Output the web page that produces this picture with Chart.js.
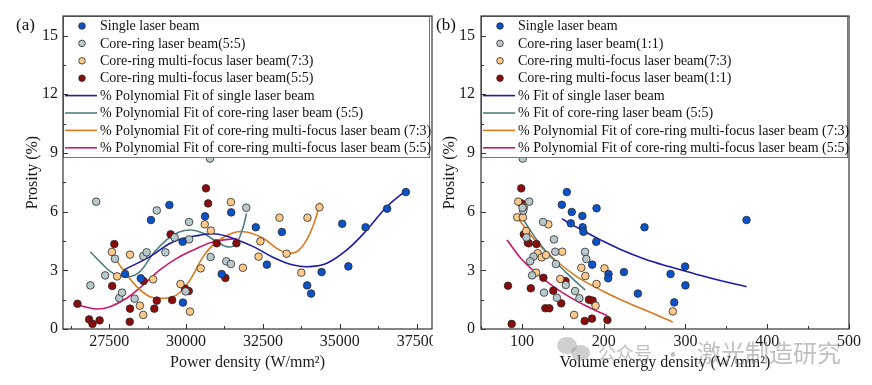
<!DOCTYPE html>
<html><head><meta charset="utf-8">
<script src="https://cdn.jsdelivr.net/npm/chart.js@4/dist/chart.umd.min.js"></script>
<style>
html,body{margin:0;padding:0;background:#fff;width:872px;height:385px;overflow:hidden;position:relative;}
#wa{position:absolute;left:0;top:0;width:433px;height:385px;overflow:hidden;}
#wb{position:absolute;left:433px;top:0;width:439px;height:385px;background:#fff;}
.plab{position:absolute;font:17px 'Liberation Serif';line-height:20px;color:#111;}
.wm{position:absolute;font-family:'Noto Sans CJK SC';color:rgba(130,130,130,0.5);white-space:nowrap;}
.bub{position:absolute;border-radius:50%;background:rgba(140,140,140,0.42);}
</style></head><body>
<div id="wa"><canvas id="ca" width="445" height="385"></canvas></div>
<div id="wb"><canvas id="cb" width="439" height="385"></canvas></div>
<div class="plab" style="left:16px;top:15px;">(a)</div>
<div class="plab" style="left:436px;top:15px;">(b)</div>
<div class="bub" style="left:557px;top:337px;width:20px;height:17px;"></div>
<div class="bub" style="left:571px;top:345px;width:19px;height:16px;"></div>
<div class="wm" style="left:598px;top:340px;font-size:18px;line-height:24px;">公众号</div>
<div class="wm" style="left:662px;top:338px;font-size:22px;line-height:28px;">·</div>
<div class="wm" style="left:697px;top:337px;font-size:24px;line-height:30px;">激光制造研究</div>
<script>
// ---------- tick labels ----------
const aXTicks = [27500, 30000, 32500, 35000, 37500];
const bXTicks = [100, 200, 300, 400, 500];
const yTicks = [0, 3, 6, 9, 12, 15];

// ---------- panel (a): power density vs porosity ----------
const aSingleX = [28020, 28860, 29460, 28530, 29890, 29900, 30620, 31160, 31470, 32270, 32630, 33120, 33940, 34070, 34410, 35080, 35280, 35840, 36540, 37150];
const aSingleY = [2.81, 5.57, 6.34, 2.59, 4.46, 1.35, 5.76, 2.81, 5.96, 5.20, 3.29, 4.96, 2.23, 1.81, 2.91, 5.38, 3.20, 5.20, 6.15, 7.00];
const aCoreX = [27080, 26890, 27370, 27690, 27830, 27920, 28330, 28610, 28720, 29050, 29330, 29630, 29990, 30100, 30100, 30800, 31310, 31460, 31960, 30780];
const aCoreY = [6.51, 2.23, 2.74, 3.59, 1.58, 1.86, 1.55, 3.73, 3.92, 6.06, 3.92, 4.68, 1.92, 5.47, 4.58, 3.68, 3.46, 3.32, 6.20, 8.71];
const aMf73X = [27590, 27760, 28180, 28500, 28610, 28930, 29820, 30610, 30810, 30480, 31460, 31850, 32420, 32360, 33040, 33270, 33750, 33950, 34340, 30130];
const aMf73Y = [3.94, 2.69, 3.80, 1.19, 0.72, 2.54, 2.30, 5.35, 5.03, 3.10, 6.49, 3.13, 4.48, 3.70, 5.69, 3.85, 2.88, 5.69, 6.22, 0.89];
const aMf55X = [26470, 26850, 26960, 27190, 27600, 27670, 28180, 28170, 28620, 28970, 29050, 29500, 29550, 29970, 30090, 30650, 30720, 31000, 31280, 31640];
const aMf55Y = [1.29, 0.49, 0.26, 0.44, 2.20, 4.34, 1.04, 0.37, 2.45, 1.04, 1.45, 4.84, 1.48, 2.06, 1.94, 7.19, 6.42, 4.38, 2.61, 4.38];
// fitted curves
const aFitSingleX = [27980, 28830, 29590, 30460, 31000, 31540, 32190, 32840, 33490, 34030, 34580, 35230, 35880, 36530, 37150];
const aFitSingleY = [3.02, 3.70, 4.46, 4.80, 4.86, 4.63, 4.21, 3.66, 3.27, 3.19, 3.36, 4.04, 5.06, 6.25, 7.07];
const aFitCoreX = [26890, 27200, 27640, 28130, 28500, 28940, 29370, 29800, 30180, 30560, 31000, 31320, 31590, 31810, 31970];
const aFitCoreY = [3.95, 3.44, 2.84, 2.67, 2.93, 3.87, 4.55, 4.97, 5.06, 4.89, 4.46, 4.21, 4.29, 4.97, 5.91];
const aFitMf73X = [27690, 27960, 28400, 28830, 29260, 29700, 30130, 30560, 31000, 31540, 31970, 32520, 32950, 33270, 33600, 33920, 34200, 34360];
const aFitMf73Y = [3.61, 3.02, 2.16, 1.65, 1.57, 1.74, 2.50, 3.70, 4.46, 4.92, 4.96, 4.63, 4.12, 3.90, 3.95, 4.55, 5.57, 6.47];
const aFitMf55X = [26470, 26770, 27100, 27530, 28070, 28610, 29150, 29700, 30240, 30890, 31650];
const aFitMf55Y = [1.23, 1.11, 1.02, 1.14, 1.57, 2.25, 3.02, 3.61, 4.04, 4.46, 4.63];

// ---------- panel (b): volume energy density vs porosity ----------
const bSingleX = [148.9, 155, 161, 159.8, 173.9, 174.3, 175.2, 191.3, 190.9, 186, 205.9, 205.5, 224.8, 241.8, 249.9, 281.8, 286.3, 299.6, 300, 374.7];
const bSingleY = [6.35, 7.00, 5.98, 5.40, 5.78, 5.20, 4.97, 6.17, 4.46, 3.29, 2.81, 2.59, 2.91, 1.81, 5.20, 2.81, 1.36, 3.19, 2.23, 5.57];
const bCoreX = [101, 109, 101.6, 100.8, 105.5, 125.9, 139.2, 140.8, 177.2, 114.2, 178.8, 110, 141.6, 112.5, 153.7, 165, 127.1, 142.8, 170.3];
const bCoreY = [8.71, 6.51, 6.05, 6.20, 4.68, 5.47, 4.58, 3.95, 3.94, 3.70, 3.58, 3.46, 3.32, 2.74, 2.25, 1.94, 1.86, 1.60, 1.57];
const bMf73X = [95.5, 94.3, 101.2, 102.4, 105.3, 119.4, 124.2, 129.5, 132.3, 117.4, 149.3, 146.9, 163.8, 172.7, 177.6, 191.3, 190.1, 201, 284.6];
const bMf73Y = [6.51, 5.71, 5.71, 6.22, 5.01, 3.87, 3.66, 3.78, 5.35, 2.88, 3.95, 2.56, 0.72, 3.13, 2.71, 2.30, 1.19, 3.10, 0.90];
const bMf11X = [83, 87.5, 99.2, 99.6, 102.4, 107.3, 108.5, 117.8, 110.9, 126.3, 128.7, 133.5, 138.4, 148.1, 153.3, 176.8, 182, 186.5, 185.7, 204.6];
const bMf11Y = [2.21, 0.26, 7.19, 6.42, 4.84, 4.41, 4.38, 4.34, 2.08, 2.62, 1.06, 1.06, 1.96, 1.31, 2.45, 0.41, 1.50, 1.45, 0.53, 0.46];
const bFitSingleX = [149, 160, 175, 195, 220, 250, 280, 310, 340, 374.7];
const bFitSingleY = [5.64, 5.36, 5.02, 4.58, 4.08, 3.58, 3.19, 2.84, 2.50, 2.16];
const bFitCoreX = [102, 120, 139, 160, 177.6];
const bFitCoreY = [5.57, 4.45, 3.53, 2.65, 1.99];
const bFitMf73X = [96.7, 120, 143, 170, 200, 230, 260, 284.6];
const bFitMf73Y = [5.57, 4.35, 3.45, 2.60, 1.92, 1.33, 0.80, 0.36];
const bFitMf55X = [81.8, 100, 123, 150, 180, 204.6];
const bFitMf55Y = [4.55, 3.55, 2.67, 1.85, 1.15, 0.68];

// ---------- styles ----------
const C = { single:'#0a52c8', core:'#b7c9cd', mf73:'#fdc88a', mf55:'#8a0b0b',
            fSingle:'#1d1ca6', fCore:'#4f7f80', fMf73:'#d77a1e', fMf55:'#c8186e' };
const FONT = "'Liberation Serif'";

function pts(xs, ys) { return xs.map((x, i) => ({ x: x, y: ys[i] })); }
function sc(label, xs, ys, color) {
  return { label, data: pts(xs, ys), backgroundColor: color, borderColor: '#2b2b2b', borderWidth: 0.8,
           pointRadius: 3.8, pointHoverRadius: 3.8, showLine: false };
}
function fit(label, xs, ys, color) {
  return { label, data: pts(xs, ys), borderColor: color, backgroundColor: color, borderWidth: 1.6,
           pointRadius: 0, pointHoverRadius: 0, showLine: true, tension: 0.4, fill: false, isFit: true };
}

const framePlugin = {
  id: 'frame',
  afterDatasetsDraw(chart, args, o) {
    const ctx = chart.ctx, ca = chart.chartArea;
    ctx.save();
    const lx = ca.left, ly = ca.top, lw = o.legendW, lh = o.legendH;
    ctx.fillStyle = '#fff';
    ctx.fillRect(lx, ly, lw, lh);
    ctx.strokeStyle = '#777'; ctx.lineWidth = 1;
    ctx.strokeRect(lx + 0.5, ly + 0.5, lw - 1, lh);
    ctx.font = '14px ' + FONT; ctx.textBaseline = 'middle'; ctx.textAlign = 'left';
    chart.data.datasets.forEach((ds, i) => {
      const y = ly + 10 + i * 17.4;
      if (ds.isFit) {
        ctx.strokeStyle = ds.borderColor; ctx.lineWidth = 1.6;
        ctx.beginPath(); ctx.moveTo(lx + 2, y); ctx.lineTo(lx + 34, y); ctx.stroke();
      } else {
        ctx.fillStyle = ds.backgroundColor; ctx.strokeStyle = '#2b2b2b'; ctx.lineWidth = 0.8;
        ctx.beginPath(); ctx.arc(lx + 19, y, 3.3, 0, Math.PI * 2); ctx.fill(); ctx.stroke();
      }
      ctx.fillStyle = '#111';
      ctx.fillText(ds.label, lx + 37, y + 0.5);
    });
    ctx.restore();
  },
  afterDraw(chart, args, o) {
    const ctx = chart.ctx, ca = chart.chartArea, xs = chart.scales.x, ys = chart.scales.y;
    ctx.save();
    ctx.strokeStyle = '#333'; ctx.lineWidth = 1.2;
    ctx.strokeRect(ca.left, ca.top, ca.right - ca.left, ca.bottom - ca.top);
    ctx.lineWidth = 1;
    const line = (x1, y1, x2, y2) => { ctx.beginPath(); ctx.moveTo(x1, y1); ctx.lineTo(x2, y2); ctx.stroke(); };
    o.xMajor.forEach(v => { const p = Math.round(xs.getPixelForValue(v)) + 0.5; line(p, ca.bottom, p, ca.bottom - 5); });
    o.xMinor.forEach(v => { const p = Math.round(xs.getPixelForValue(v)) + 0.5; line(p, ca.bottom, p, ca.bottom - 3); });
    o.yMajor.forEach(v => { const p = Math.round(ys.getPixelForValue(v)) + 0.5; line(ca.left, p, ca.left + 5, p); });
    o.yMinor.forEach(v => { const p = Math.round(ys.getPixelForValue(v)) + 0.5; line(ca.left, p, ca.left + 3, p); });
    ctx.restore();
  }
};

function mids(arr, before) {
  const step = arr[1] - arr[0];
  const out = [];
  if (before) out.push(arr[0] - step / 2);
  for (let i = 0; i < arr.length - 1; i++) out.push((arr[i] + arr[i + 1]) / 2);
  return out;
}

function makeChart(id, cfg) {
  return new Chart(document.getElementById(id), {
    type: 'scatter',
    data: { datasets: cfg.datasets },
    plugins: [framePlugin],
    options: {
      responsive: false, animation: false,
      layout: { padding: { left: 0, top: 16, right: cfg.padRight, bottom: 0 } },
      plugins: {
        legend: { display: false }, tooltip: { enabled: false },
        frame: { legendW: 367, legendH: 141, xMajor: cfg.xTicks, xMinor: mids(cfg.xTicks, true),
                 yMajor: yTicks, yMinor: mids(yTicks, false) }
      },
      scales: {
        x: {
          type: 'linear', min: cfg.xMin, max: cfg.xMax,
          afterBuildTicks: s => { s.ticks = cfg.xTicks.map(v => ({ value: v })); },
          ticks: { font: { family: FONT, size: 16 }, color: '#1a1a1a', padding: 3, maxRotation: 0, autoSkip: false,
                   callback: v => String(v) },
          grid: { display: false, drawTicks: false }, border: { display: false },
          title: { display: true, text: cfg.xTitle, font: { family: FONT, size: 16 }, color: '#1a1a1a', padding: { top: 0, bottom: 13 } },
          afterFit: s => { s.height = 56; s.paddingLeft = 0; s.paddingRight = 0; }
        },
        y: {
          type: 'linear', min: 0, max: 16,
          afterBuildTicks: s => { s.ticks = yTicks.map(v => ({ value: v })); },
          ticks: { font: { family: FONT, size: 16 }, color: '#1a1a1a', padding: cfg.yPad, callback: v => String(v) },
          grid: { display: false, drawTicks: false }, border: { display: false },
          title: { display: true, text: 'Prosity (%)', font: { family: FONT, size: 16 }, color: '#1a1a1a', padding: { top: cfg.yTitlePad, bottom: 0 } },
          afterFit: s => { s.width = cfg.yWidth; }
        }
      }
    }
  });
}

makeChart('ca', {
  xMin: 26000, xMax: 38000, xTicks: aXTicks, padRight: 13, yWidth: 63, yPad: 5, yTitlePad: 23,
  xTitle: 'Power density (W/mm²)',
  datasets: [
    sc('Single laser beam', aSingleX, aSingleY, C.single),
    sc('Core-ring laser beam(5:5)', aCoreX, aCoreY, C.core),
    sc('Core-ring multi-focus laser beam(7:3)', aMf73X, aMf73Y, C.mf73),
    sc('Core-ring multi-focus laser beam(5:5)', aMf55X, aMf55Y, C.mf55),
    fit('% Polynomial Fit of single laser beam', aFitSingleX, aFitSingleY, C.fSingle),
    fit('% Polynomial Fit of core-ring laser beam (5:5)', aFitCoreX, aFitCoreY, C.fCore),
    fit('% Polynomial Fit of core-ring multi-focus laser beam (7:3)', aFitMf73X, aFitMf73Y, C.fMf73),
    fit('% Polynomial Fit of core-ring multi-focus laser beam (5:5)', aFitMf55X, aFitMf55Y, C.fMf55)
  ]
});

makeChart('cb', {
  xMin: 50, xMax: 500, xTicks: bXTicks, padRight: 23, yWidth: 48, yPad: 6, yTitlePad: 7,
  xTitle: 'Volume energy density (W/mm²)',
  datasets: [
    sc('Single laser beam', bSingleX, bSingleY, C.single),
    sc('Core-ring laser beam(1:1)', bCoreX, bCoreY, C.core),
    sc('Core-ring multi-focus laser beam(7:3)', bMf73X, bMf73Y, C.mf73),
    sc('Core-ring multi-focus laser beam(1:1)', bMf11X, bMf11Y, C.mf55),
    fit('% Fit of single laser beam', bFitSingleX, bFitSingleY, C.fSingle),
    fit('% Fit of core-ring laser beam (5:5)', bFitCoreX, bFitCoreY, C.fCore),
    fit('% Polynomial Fit of core-ring multi-focus laser beam (7:3)', bFitMf73X, bFitMf73Y, C.fMf73),
    fit('% Polynomial Fit of core-ring multi-focus laser beam (5:5)', bFitMf55X, bFitMf55Y, C.fMf55)
  ]
});
</script>
</body></html>
